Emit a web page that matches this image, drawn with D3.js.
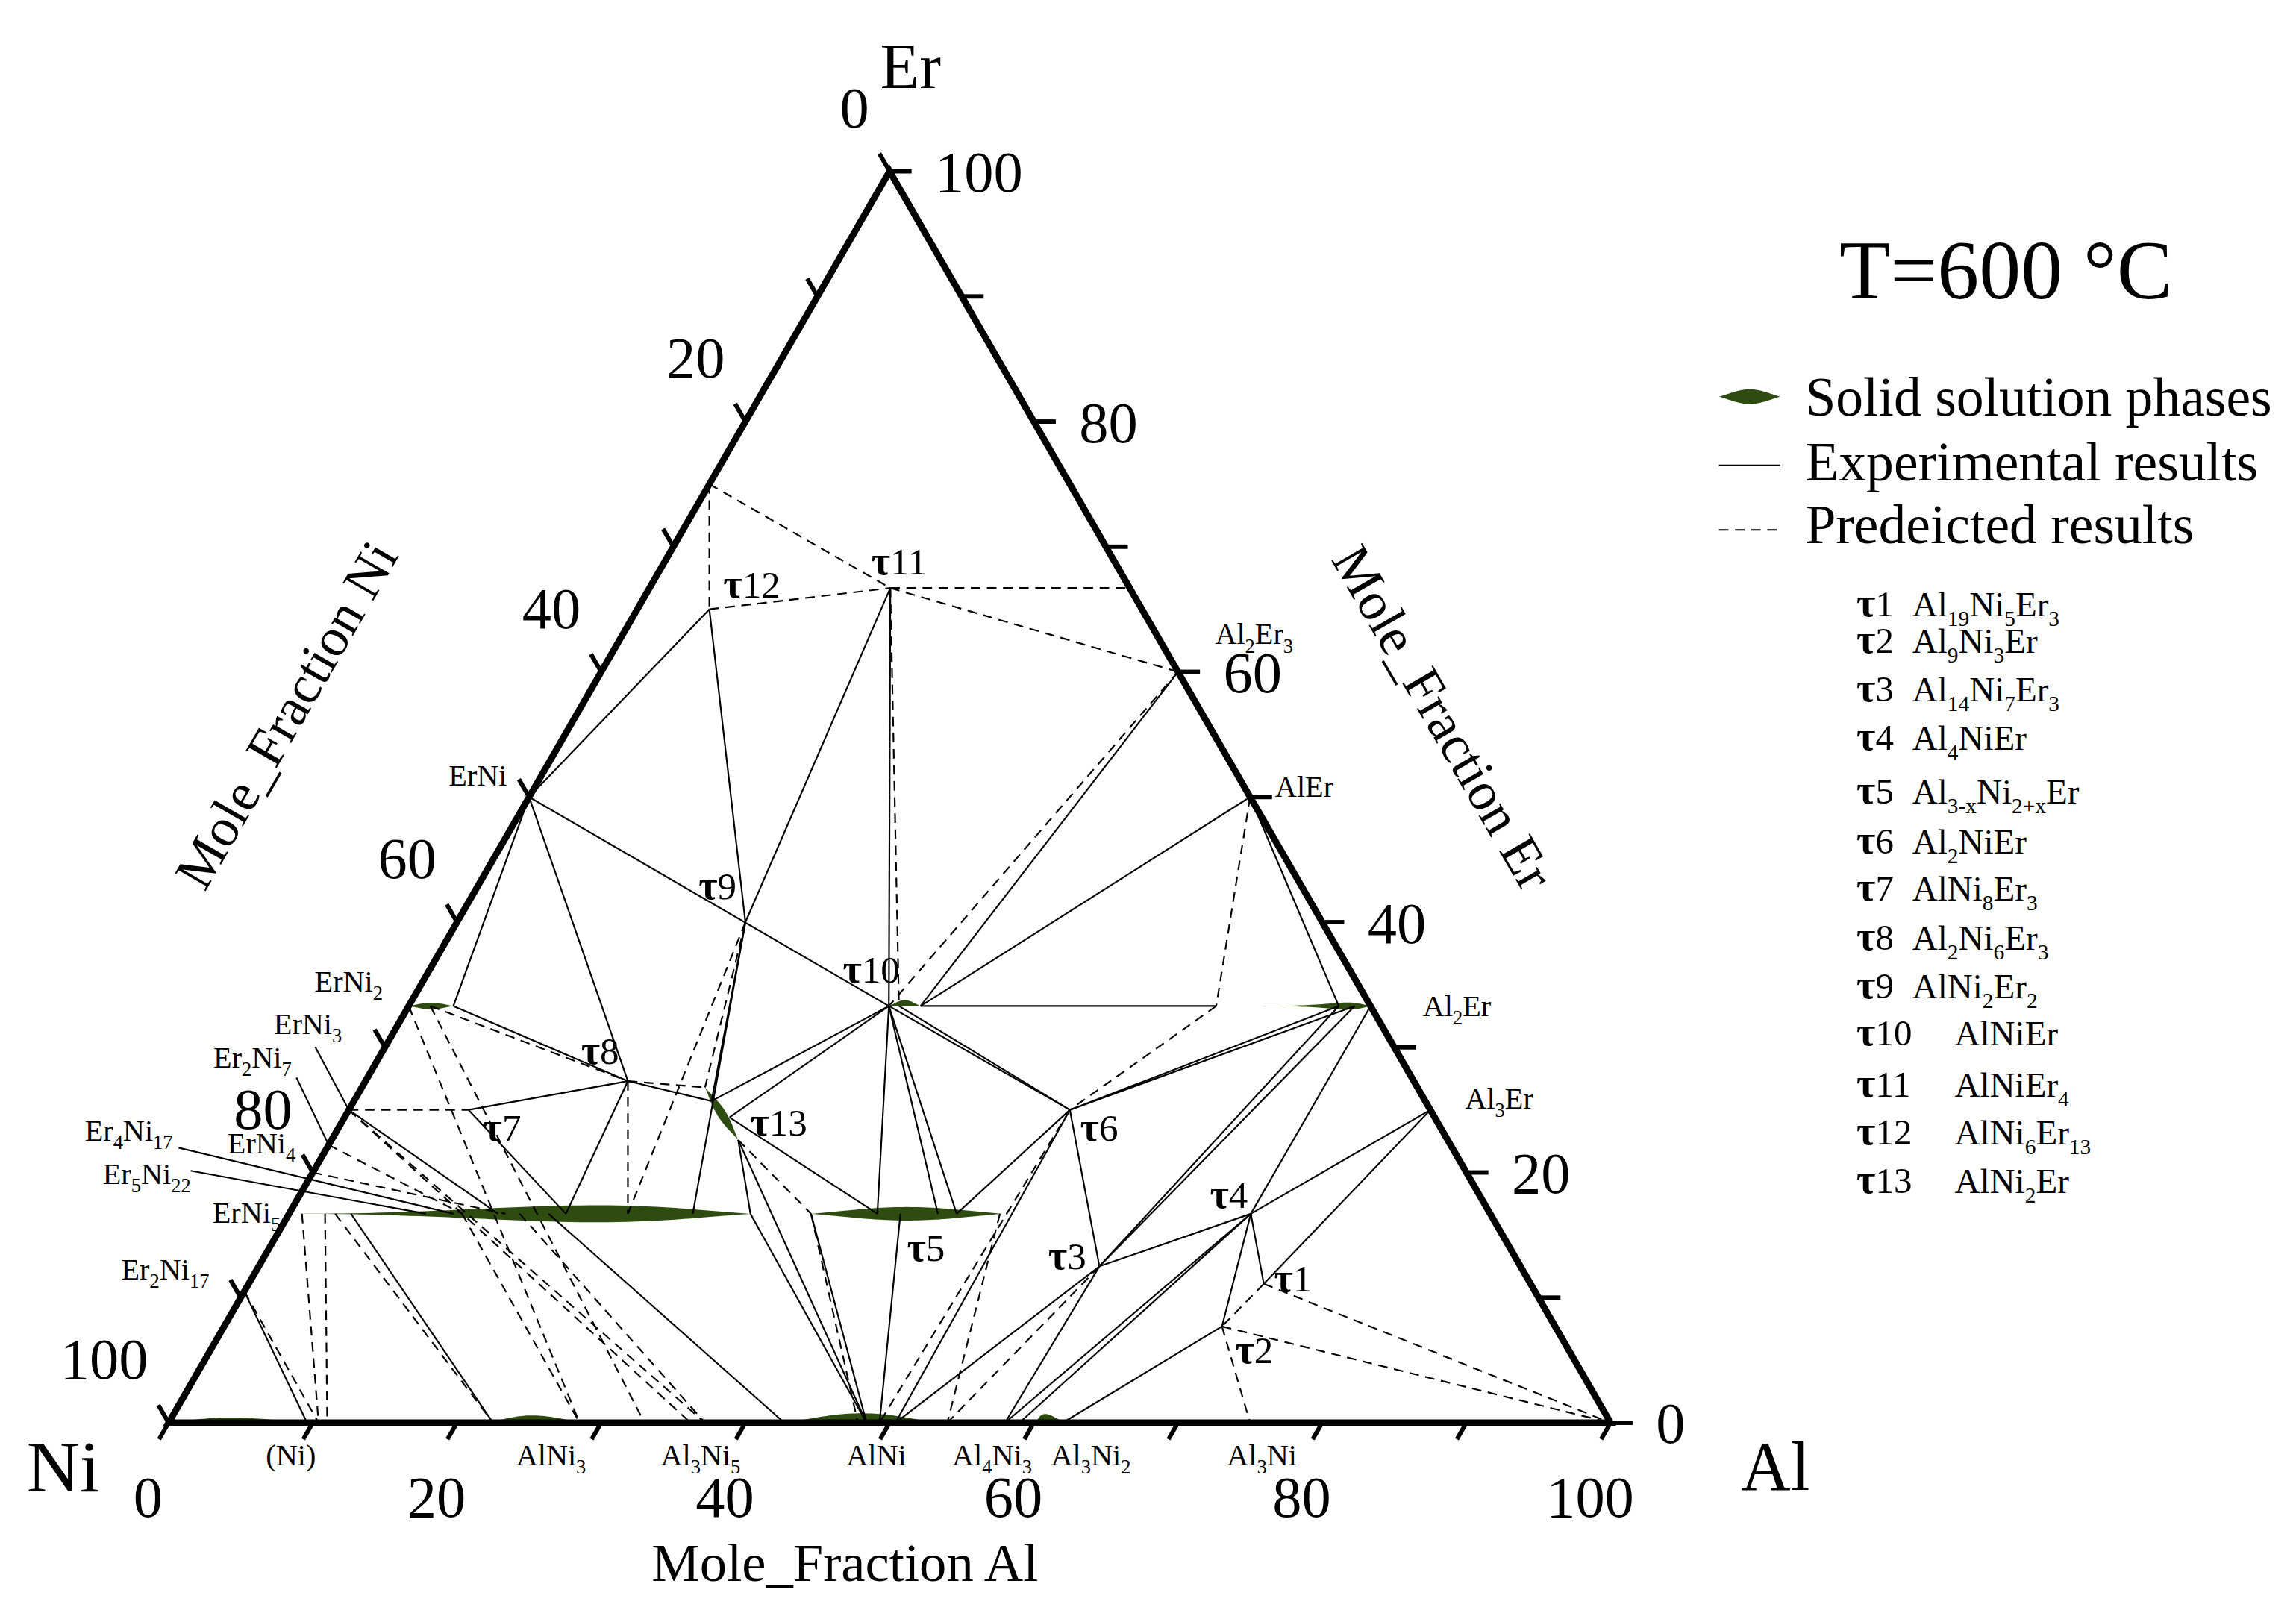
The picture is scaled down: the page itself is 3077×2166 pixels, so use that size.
<!DOCTYPE html>
<html>
<head>
<meta charset="utf-8">
<script src="https://d3js.org/d3.v7.min.js"></script>
<style>
  body { margin: 0; background: #fff; }
  svg { display: block; }
  text { font-family: "Liberation Serif", "Times New Roman", serif; fill: #000; }
</style>
</head>
<body>
<svg id="chart"></svg>
<script>
// ---- data: compositions as [id, Al at.%, Er at.%] (Ni is the rest) ----
var nodes = [
  ["Ni",0,0], ["Al",100,0], ["Er",0,100],
  // Ni-Er side
  ["Er3Ni",0,75], ["ErNi",0,50], ["ErNi2",0,33.3], ["ErNi2m",1.5,33.3], ["ErNi2b",3.1,33.3],
  ["ErNi3",0,25], ["Er2Ni7",0,22.2], ["ErNi4",0,20], ["Er2Ni17",0,10.5],
  // points on the ErNi5 solid solution
  ["e5a",0.9,16.7], ["e5b",2.5,16.7], ["e5c",3.2,16.7], ["e5d",4.3,16.7], ["e5e",9.5,16.7],
  ["e5f",11.4,16.7], ["e5g",12,16.7], ["e5h",14.5,16.7], ["e5i",15,16.7], ["e5j",16,16.7],
  ["e5k",18,16.7], ["e5l",19.2,16.7], ["e5m",23.5,16.7], ["e5n",28,16.7], ["e5t",32,16.7],
  // Al-Er side
  ["AlEr2",33.3,66.7], ["Al2Er3",40,60], ["AlEr",50,50], ["Al2ErL",56,33.3], ["Al2ErP",64.5,33.3],
  ["Al2ErQ",65.6,33.3], ["Al2Er",66.7,33.3], ["Al3Er",75,25],
  // Al-Ni side
  ["NiSS",9.6,0], ["Ni10",10.4,0], ["Ni11",11,0], ["AlNi3a",22.5,0], ["AlNi3b",28.5,0],
  ["Al3Ni5x",33,0], ["Al3Ni5b",36.2,0], ["Al3Ni5",37.2,0], ["AlNia",42.7,0], ["AlNi0",47.8,0],
  ["AlNi",48.4,0], ["AlNi2",49.3,0], ["AlNic",50.4,0], ["AlNie",54,0], ["Al4Ni3",58,0],
  ["Al4Ni3b",59,0], ["Al3Ni2",62,0], ["Al3Ni",75,0],
  // ternary compounds
  ["t1",70.4,11.1], ["t2",69.2,7.7], ["t3",58.3,12.5], ["t4",66.7,16.7],
  ["t5",42.75,16.7], ["t5L",36.2,16.7], ["t5a",40.8,16.7], ["t5c",42.4,16.7], ["t5b",45,16.7],
  ["t5d",46.3,16.7], ["t5R",49.3,16.7],
  ["t6",50,25], ["t7",8.3,25], ["t8",18.2,27.3], ["t9",20,40],
  ["t10",33.3,33.3], ["t10c",34,33.3], ["t10b",35.5,33.3],
  ["t11",16.7,66.7], ["t12",5,65],
  ["t13",26,24.7], ["t13a",23.8,26.8], ["t13m",24.8,25.7], ["t13n",26.7,24.4], ["t13b",28.2,22.6]
];

// experimental tie lines (solid)
var experimentalTies = [
  ["ErNi","t12"], ["t12","t9"], ["t11","t9"], ["t11","t10"], ["ErNi","t10"],
  ["Al2Er3","t10b"], ["AlEr","t10b"], ["AlEr","Al2ErP"], ["t10b","Al2ErL"],
  ["t10","t6"], ["t10c","t6"], ["t6","Al2ErP"], ["t6","Al2ErQ"], ["t6","t3"],
  ["t3","Al2ErP"], ["t3","Al2ErQ"], ["t3","t4"], ["t4","Al2Er"], ["t4","Al4Ni3"], ["t4","Al4Ni3b"],
  ["t3","Al4Ni3"], ["t3","AlNic"], ["t4","t2"], ["t4","t1"], ["t4","Al3Er"], ["t1","Al3Er"], ["t2","Al3Ni2"],
  ["t6","t5d"], ["t6","AlNic"], ["t10","t5a"], ["t10","t5b"], ["t10","t5d"], ["t10","t13m"], ["t10","t13n"],
  ["t13n","t5a"], ["t13b","e5t"], ["e5t","AlNi"], ["t13b","AlNi"], ["t5L","AlNi"], ["t5c","AlNi2"],
  ["ErNi","ErNi2b"], ["ErNi","t8"], ["ErNi2b","t8"], ["t7","t8"], ["t7","e5l"], ["t8","e5l"],
  ["t8","t13m"], ["t9","t13m"], ["t9","e5n"],
  ["ErNi3","e5h"], ["e5k","AlNia"], ["e5d","AlNi3a"], ["Er2Ni17","NiSS"]
];

// predicted tie lines (dashed)
var predictedTies = [
  ["Er3Ni","t12"], ["Er3Ni","t11"], ["t12","t11"], ["t11","AlEr2"], ["t11","Al2Er3"], ["t11","t10c"],
  ["Al2Er3","t10"], ["AlEr","Al2ErL"], ["Al2ErL","t6"],
  ["t3","AlNie"], ["t6","AlNi2"], ["t5R","AlNie"],
  ["t1","t2"], ["t2","Al3Ni"], ["t1","Al"], ["t2","Al"],
  ["t13b","t5L"], ["t5L","AlNi0"],
  ["ErNi2m","t8"], ["t8","t13a"], ["t8","e5m"], ["t9","e5m"], ["t9","t13a"],
  ["ErNi3","t7"], ["ErNi2","AlNi3b"], ["ErNi2m","Al3Ni5x"],
  ["ErNi3","Al3Ni5"], ["ErNi3","Al3Ni5b"], ["Er2Ni7","e5g"], ["ErNi4","e5i"],
  ["e5g","AlNi3b"], ["e5j","Al3Ni5"], ["e5c","AlNi3a"],
  ["Er2Ni17","Ni10"], ["e5a","Ni10"], ["e5b","Ni11"]
];

// solid solution ranges: [id, Al from, Er from, Al to, Er to]
var solidSolutions = [
  ["(Ni)",0,0,9.6,0], ["AlNi3",22.3,0,28.8,0], ["AlNi",42.7,0,53.4,0], ["Al3Ni2",60.2,0,62.2,0],
  ["ErNi2",0,33.3,3.1,33.3], ["ErNi5",0.5,16.7,32,16.7], ["tau5",36.2,16.7,49.5,16.7],
  ["tau10",33.3,33.3,35.5,33.3], ["tau13",23.8,26.8,28.2,22.6], ["Al2Er",56,33.3,66.7,33.3]
];

// compound labels: [text, Al, Er]  ({..} = subscript)
var phaseLabels = [
  ["ErNi",0,50], ["ErNi{2}",0,33.3], ["ErNi{3}",0,25], ["Er{2}Ni{7}",0,22.2], ["ErNi{4}",0,20],
  ["Er{4}Ni{17}",0,19.05], ["Er{5}Ni{22}",0,18.5], ["ErNi{5}",0,16.7], ["Er{2}Ni{17}",0,10.5],
  ["(Ni)",10,0], ["AlNi{3}",25,0], ["Al{3}Ni{5}",37.5,0], ["AlNi",50,0], ["Al{4}Ni{3}",57.1,0],
  ["Al{3}Ni{2}",60,0], ["Al{3}Ni",75,0], ["Al{2}Er{3}",40,60], ["AlEr",50,50], ["Al{2}Er",66.7,33.3],
  ["Al{3}Er",75,25]
];

var tauNames = ["τ1","τ2","τ3","τ4","τ5","τ6","τ7","τ8","τ9","τ10","τ11","τ12","τ13"];
var tauNodes = ["t1","t2","t3","t4","t5","t6","t7","t8","t9","t10","t11","t12","t13"];
var tauFormulas = ["Al{19}Ni{5}Er{3}","Al{9}Ni{3}Er","Al{14}Ni{7}Er{3}","Al{4}NiEr","Al{3-x}Ni{2+x}Er",
  "Al{2}NiEr","AlNi{8}Er{3}","Al{2}Ni{6}Er{3}","AlNi{2}Er{2}","AlNiEr","AlNiEr{4}","AlNi{6}Er{13}","AlNi{2}Er"];

var tickValues = d3.range(0, 101, 10);
var tickLabels = [0, 20, 40, 60, 80, 100];
var legendItems = ["Solid solution phases", "Experimental results", "Predeicted results"];

// ---- layout ----
var labelOffsets = [[-35,-14],[-41,-16],[-28,-58],[-52,-59],[-35,-19],[-121,-36],[-106,-11],[-29,0],
  [-54,-14],[-15,23],[15,23],[-6,23],[-9,23],[0,23],[39,23],[8,23],[52,-25],[37,-6],[59,1],[47,-7]];
var tauOffsets = [[20,-4],[22,16],[-22,-7],[-15,-13],[14,23],[20,12],[23,12],[-19,-21],[-19,-25],
  [-12,-25],[6,-18],[29,-17],[39,6]];
// leader lines: label index, target node, start offset from label centre
var leaders = [[2,"ErNi3",5,15],[3,"Er2Ni7",30,13],[5,"e5f",34,11],[6,"e5e",30,-3]];
var lensStyle = {
  "(Ni)":{h:3.5,peak:0.45,half:true}, "AlNi3":{h:5,peak:0.45,half:true},
  "AlNi":{h:6.5,peak:0.5,half:true}, "Al3Ni2":{h:6,peak:0.3,half:true},
  "ErNi2":{h:2.2,peak:0.5}, "ErNi5":{h:5.8,peak:0.66}, "tau5":{h:4.6,peak:0.5},
  "tau10":{h:4,peak:0.5,half:true}, "tau13":{h:3,peak:0.5}, "Al2Er":{h:2.4,peak:0.85}
};
var green = "#2f4c10";
var dash = "6.5,4.5";

var svg = d3.select("#chart")
  .attr("width", 3077).attr("height", 2166)
  .attr("viewBox", "0 0 1568 1104");

var x = d3.scaleLinear().domain([0,100]).range([115,1100]);
var y = d3.scaleLinear().domain([0,100]).range([972,117]);
var proj = function(al, er) { return [x(al + er/2), y(er)]; };

var pos = new Map(nodes.map(function(d) { return [d[0], proj(d[1], d[2])]; }));
var P = function(id) {
  if (!pos.has(id)) console.error("missing node " + id);
  return pos.get(id);
};

// text with {subscripts}
var richText = function(sel, s, size, subSize) {
  var parts = s.split(/(\{[^}]*\})/).filter(function(p) { return p.length; });
  var down = false;
  parts.forEach(function(p) {
    if (p[0] === "{") {
      sel.append("tspan").attr("font-size", subSize).attr("dy", down ? 0 : size*0.28).text(p.slice(1,-1));
      down = true;
    } else {
      sel.append("tspan").attr("font-size", size).attr("dy", down ? -size*0.28 : 0).text(p);
      down = false;
    }
  });
};

// "τ" drawn heavier than its number, as in the figure
var tauText = function(sel, name, tauSize, numSize) {
  sel.append("tspan").attr("font-size", tauSize).attr("font-weight", "bold").text(name[0]);
  sel.append("tspan").attr("font-size", numSize).text(name.slice(1));
};

var lensPath = function(p0, p1, h, peak, half) {
  var dx = p1[0]-p0[0], dy = p1[1]-p0[1], len = Math.hypot(dx, dy);
  var ux = dx/len, uy = dy/len, nx = uy, ny = -ux;
  var k = Math.log(0.5)/Math.log(peak), N = 48, pts = [];
  var w = function(s) { return h*Math.pow(Math.sin(Math.PI*Math.pow(s, k)), 1.2); };
  for (var i = 0; i <= N; i++) {
    var s = i/N;
    pts.push([p0[0]+ux*len*s+nx*w(s), p0[1]+uy*len*s+ny*w(s)]);
  }
  if (!half) {
    for (var j = N; j >= 0; j--) {
      var t = j/N;
      pts.push([p0[0]+ux*len*t-nx*w(t), p0[1]+uy*len*t-ny*w(t)]);
    }
  }
  return d3.line()(pts) + "Z";
};

// solid solution lenses
svg.append("g").selectAll("path")
  .data(solidSolutions)
  .join("path")
  .attr("d", function(d) {
    var st = lensStyle[d[0]];
    return lensPath(proj(d[1], d[2]), proj(d[3], d[4]), st.h, st.peak, st.half);
  })
  .attr("fill", green);

// tie lines
var ties = svg.append("g").attr("fill", "none");
ties.selectAll("line.exp")
  .data(experimentalTies)
  .join("line")
  .classed("exp", true)
  .attr("x1", function(d) { return P(d[0])[0]; })
  .attr("y1", function(d) { return P(d[0])[1]; })
  .attr("x2", function(d) { return P(d[1])[0]; })
  .attr("y2", function(d) { return P(d[1])[1]; })
  .attr("stroke", "#000").attr("stroke-width", 1.1);
ties.selectAll("line.pred")
  .data(predictedTies)
  .join("line")
  .classed("pred", true)
  .attr("x1", function(d) { return P(d[0])[0]; })
  .attr("y1", function(d) { return P(d[0])[1]; })
  .attr("x2", function(d) { return P(d[1])[0]; })
  .attr("y2", function(d) { return P(d[1])[1]; })
  .attr("stroke", "#000").attr("stroke-width", 1.1)
  .attr("stroke-dasharray", dash);

// triangle
svg.append("path")
  .attr("d", d3.line()([P("Ni"), P("Al"), P("Er")]) + "Z")
  .attr("fill", "none").attr("stroke", "#000").attr("stroke-width", 4.5)
  .attr("stroke-linejoin", "miter");

// ticks
var axes = svg.append("g").attr("stroke", "#000").attr("stroke-width", 3);
tickValues.forEach(function(v) {
  var b = proj(v, 0);           // Al axis (bottom)
  axes.append("line").attr("x1", b[0]).attr("y1", b[1])
    .attr("x2", b[0] - 0.5*13).attr("y2", b[1] + 0.866*13);
  var l = proj(0, 100 - v);     // Ni axis (left)
  axes.append("line").attr("x1", l[0]).attr("y1", l[1])
    .attr("x2", l[0] - 0.5*14).attr("y2", l[1] - 0.866*14);
  var r = proj(100 - v, v);     // Er axis (right)
  axes.append("line").attr("x1", r[0]).attr("y1", r[1])
    .attr("x2", r[0] + 15).attr("y2", r[1]);
});

var tl = svg.append("g").attr("font-size", 40);
tickLabels.forEach(function(v) {
  var b = proj(v, 0);
  tl.append("text").attr("x", b[0] - 14).attr("y", b[1] + 50 + 14)
    .attr("text-anchor", "middle").text(v);
  var l = proj(0, 100 - v);
  tl.append("text").attr("x", l[0] - 14).attr("y", l[1] - 44 + 14)
    .attr("text-anchor", "end").text(v);
  var r = proj(100 - v, v);
  tl.append("text").attr("x", r[0] + 31).attr("y", r[1] + 14)
    .attr("text-anchor", "start").text(v);
});

// vertex names
svg.append("text").attr("x", 601).attr("y", 60).attr("font-size", 44).text("Er");
svg.append("text").attr("x", 18).attr("y", 1019).attr("font-size", 50).text("Ni");
svg.append("text").attr("x", 1189).attr("y", 1018).attr("font-size", 47).text("Al");

// axis titles
svg.append("text").attr("x", 577).attr("y", 1080).attr("font-size", 37)
  .attr("text-anchor", "middle").text("Mole_Fraction Al");
svg.append("text").attr("transform", "translate(195,488) rotate(-60)")
  .attr("font-size", 37).attr("text-anchor", "middle").attr("dy", "0.35em")
  .text("Mole_Fraction Ni");
svg.append("text").attr("transform", "translate(986,490) rotate(60)")
  .attr("font-size", 37).attr("text-anchor", "middle").attr("dy", "0.35em")
  .text("Mole_Fraction Er");

// compound labels
var pl = svg.append("g");
phaseLabels.forEach(function(d, i) {
  var p = proj(d[1], d[2]), o = labelOffsets[i];
  var t = pl.append("text").attr("x", p[0] + o[0]).attr("y", p[1] + o[1] + 6)
    .attr("text-anchor", "middle");
  richText(t, d[0], 20.5, 13.5);
});
leaders.forEach(function(d) {
  var lab = phaseLabels[d[0]], p = proj(lab[1], lab[2]), o = labelOffsets[d[0]];
  var end = P(d[1]);
  pl.append("line")
    .attr("x1", p[0] + o[0] + d[2]).attr("y1", p[1] + o[1] + d[3])
    .attr("x2", end[0]).attr("y2", end[1])
    .attr("stroke", "#000").attr("stroke-width", 1.1);
});

// tau labels on the diagram
tauNames.forEach(function(name, i) {
  var p = P(tauNodes[i]), o = tauOffsets[i];
  var t = svg.append("text").attr("x", p[0] + o[0]).attr("y", p[1] + o[1] + 9)
    .attr("text-anchor", "middle");
  tauText(t, name, 28, 26);
});

// temperature
svg.append("text").attr("x", 1370).attr("y", 204).attr("font-size", 57)
  .attr("text-anchor", "middle").text("T=600 °C");

// legend
var lg = svg.append("g");
lg.append("path").attr("d", lensPath([1174, 271], [1216, 271], 5, 0.5, false)).attr("fill", green);
lg.append("line").attr("x1", 1174).attr("x2", 1216).attr("y1", 318).attr("y2", 318)
  .attr("stroke", "#000").attr("stroke-width", 1.1);
lg.append("line").attr("x1", 1174).attr("x2", 1216).attr("y1", 362).attr("y2", 362)
  .attr("stroke", "#000").attr("stroke-width", 1.1).attr("stroke-dasharray", dash);
lg.selectAll("text.leg")
  .data(legendItems)
  .join("text")
  .classed("leg", true)
  .attr("x", 1233)
  .attr("y", function(d, i) { return [284, 328, 371][i]; })
  .attr("font-size", 37.5)
  .text(function(d) { return d; });

var listY = [412, 437, 470, 503, 540, 574, 606, 640, 673, 705, 740, 773, 806];
tauNames.forEach(function(name, i) {
  var t = lg.append("text").attr("x", 1268).attr("y", listY[i] + 9);
  tauText(t, name, 28, 25);
  var f = lg.append("text").attr("x", i < 9 ? 1306 : 1335).attr("y", listY[i] + 9);
  richText(f, tauFormulas[i], 24, 15);
});
</script>
</body>
</html>
